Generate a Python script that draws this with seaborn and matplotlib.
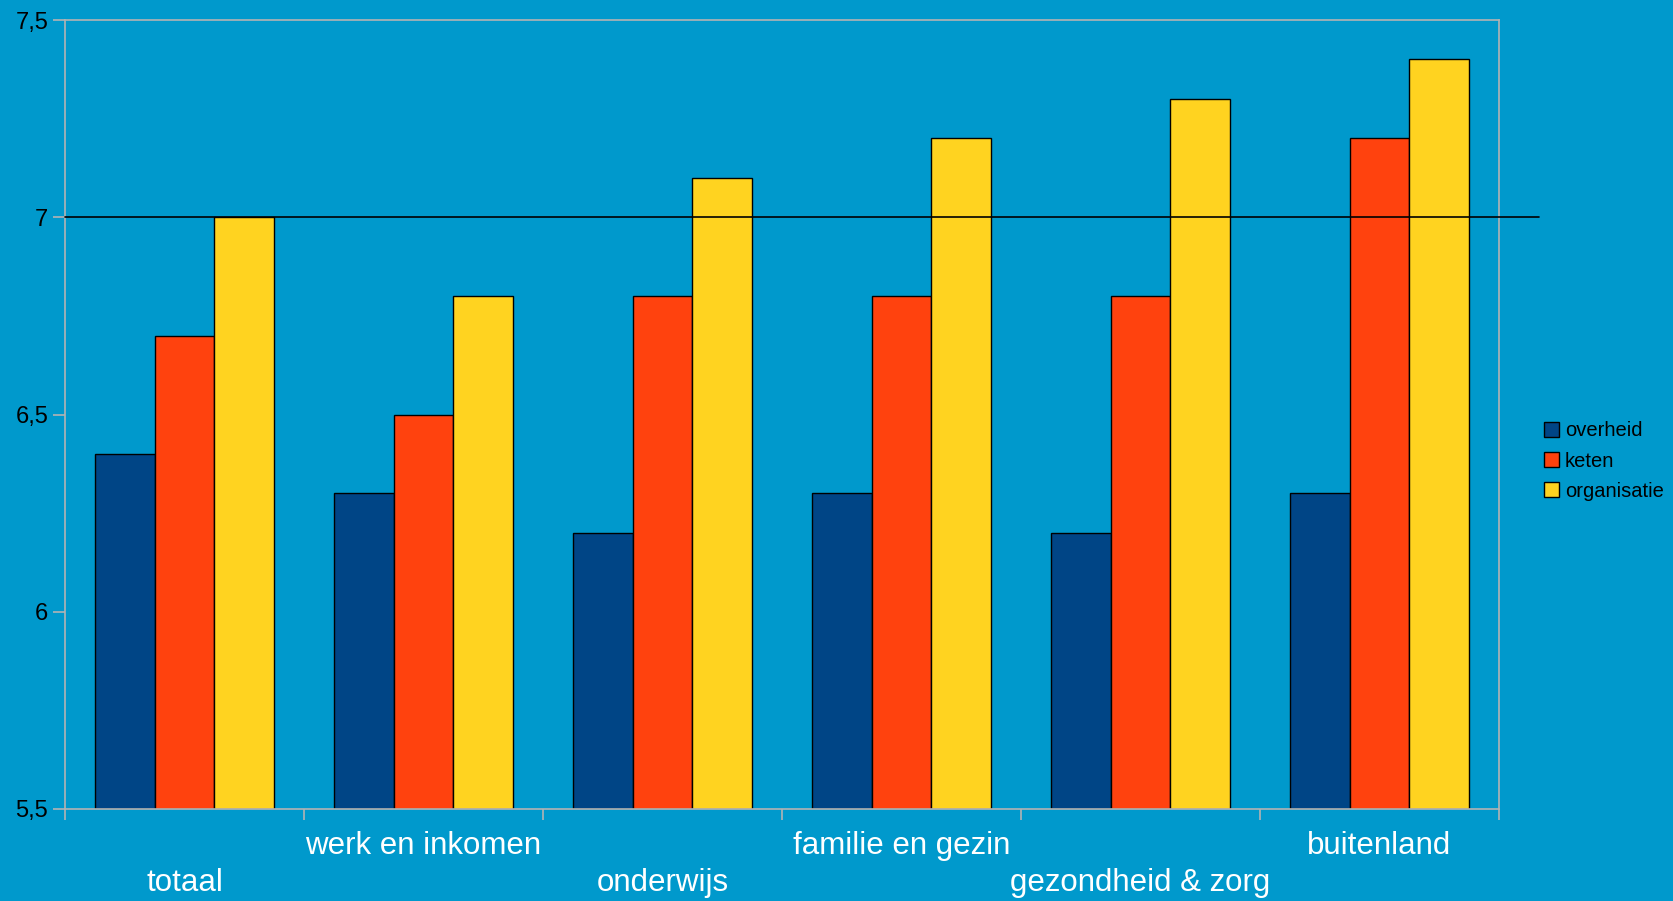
import matplotlib
matplotlib.use("Agg")
import matplotlib.pyplot as plt
import matplotlib.transforms as mtransforms
import seaborn as sns
import pandas as pd
import numpy as np

categories = ["totaal", "werk en inkomen", "onderwijs", "familie en gezin",
              "gezondheid & zorg", "buitenland"]
series_names = ["overheid", "keten", "organisatie"]
overheid = [6.4, 6.3, 6.2, 6.3, 6.2, 6.3]
keten = [6.7, 6.5, 6.8, 6.8, 6.8, 7.2]
organisatie = [7.0, 6.8, 7.1, 7.2, 7.3, 7.4]
y_ticks = [5.5, 6, 6.5, 7, 7.5]
y_tick_labels = ["5,5", "6", "6,5", "7", "7,5"]
reference_line = 7.0

colors = ["#004586", "#ff420e", "#ffd320"]
bg = "#0099cc"
frame = "#b3b3b3"

rows = []
for c, a, b, d in zip(categories, overheid, keten, organisatie):
    rows.append((c, series_names[0], a))
    rows.append((c, series_names[1], b))
    rows.append((c, series_names[2], d))
df = pd.DataFrame(rows, columns=["categorie", "reeks", "waarde"])

sns.set_theme(style="white")
plt.rcParams["font.family"] = ["Liberation Sans", "DejaVu Sans"]

fig = plt.figure(figsize=(16.73, 9.01), dpi=100, facecolor=bg)
ax = fig.add_axes([65 / 1673, 1 - 809 / 901, (1499 - 65) / 1673, (809 - 20) / 901])
ax.set_facecolor(bg)

sns.barplot(data=df, x="categorie", y="waarde", hue="reeks", palette=colors,
            saturation=1, width=0.75, edgecolor="black", linewidth=1.0, ax=ax,
            errorbar=None, legend=True)

ax.set_ylim(5.5, 7.5)
ax.set_xlim(-0.5, len(categories) - 0.5)
ax.set_xlabel("")
ax.set_ylabel("")

# bars start at 5.5 baseline
for p in ax.patches:
    h = p.get_height()
    if h > 0:
        p.set_y(5.5)
        p.set_height(h - 5.5)

ax.axhline(reference_line, xmin=0, xmax=(1539 - 65) / (1499 - 65), color="black",
           linewidth=1.2, clip_on=False, zorder=5)

for s in ax.spines.values():
    s.set_visible(True)
    s.set_color(frame)
    s.set_linewidth(1.2)

ax.set_yticks(y_ticks)
ax.set_yticklabels(y_tick_labels, fontsize=17, color="black")
ax.tick_params(axis="y", direction="out", length=9, width=1.2, color=frame,
               left=True, pad=3)

ax.set_xticks(np.arange(-0.5, len(categories) + 0.5, 1.0))
ax.set_xticklabels([])
ax.tick_params(axis="x", direction="out", length=8, width=1.2, color=frame,
               bottom=True)

trans = mtransforms.blended_transform_factory(ax.transData, ax.transAxes)
for i, c in enumerate(categories):
    yy = -(846 - 809) / 789 if i % 2 == 1 else -(883 - 809) / 789
    ax.text(i, yy, c, transform=trans, ha="center", va="center",
            fontsize=22.5, color="white")

leg = ax.legend(loc="center left", bbox_to_anchor=(1.0255, 0.441), frameon=False,
                fontsize=14.5, handlelength=0.75, handleheight=0.75,
                handletextpad=0.3, labelspacing=0.55, borderaxespad=0)
for t in leg.get_texts():
    t.set_color("black")

fig.savefig("out.png", dpi=100, facecolor=bg)
